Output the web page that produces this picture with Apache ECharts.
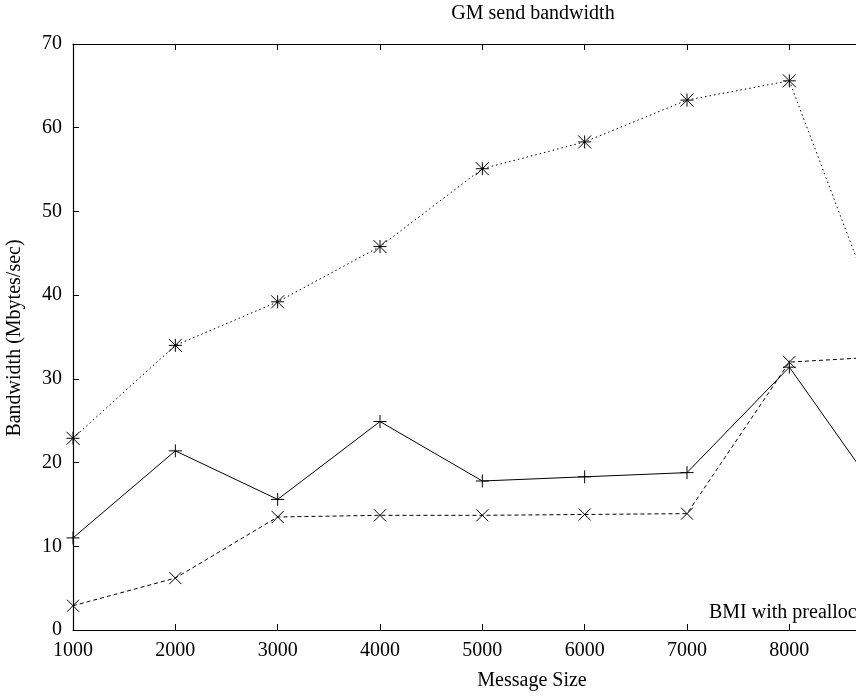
<!DOCTYPE html>
<html>
<head>
<meta charset="utf-8">
<script src="https://cdn.jsdelivr.net/npm/echarts@6/dist/echarts.min.js"></script>
<style>html,body{margin:0;padding:0;background:#fff}#c{width:856px;height:696px}</style>
</head>
<body>
<div id="c"></div>
<script>
const messageSizes = [1000, 2000, 3000, 4000, 5000, 6000, 7000, 8000, 9000];
const starValues = [22.9, 34.0, 39.2, 45.8, 55.1, 58.3, 63.3, 65.6, 33.3];
const plusValues = [11.0, 21.4, 15.6, 24.9, 17.8, 18.3, 18.8, 31.4, 14.1];
const crossValues = [2.9, 6.2, 13.5, 13.7, 13.7, 13.8, 13.9, 32.0, 32.7];
const titleText = 'GM send bandwidth';
const xName = 'Message Size';
const yName = 'Bandwidth (Mbytes/sec)';
const keyText = 'BMI with prealloc';

const FONT = 'Liberation Serif';
const FS = 20;
const pair = (xs, ys) => xs.map((x, i) => [x, ys[i]]);
const SYM_PLUS = 'path://M0,5L10,5M5,0L5,10';
const SYM_CROSS = 'path://M0,0L10,10M10,0L0,10';
const SYM_STAR = 'path://M0,5L10,5M5,0L5,10M0,0L10,10M10,0L0,10';

const chart = echarts.init(document.getElementById('c'), null, {renderer: 'canvas'});
const axisCommon = {
  type: 'value', min: 1000, max: 10000, interval: 1000,
  axisLine: {show: true, lineStyle: {color: '#000', width: 1.2}},
  axisTick: {show: true, inside: true, length: 6, lineStyle: {color: '#000'}},
  splitLine: {show: false}
};
const symStyle = {color: '#000', borderColor: '#000', borderWidth: 1};
const font = FS + 'px "' + FONT + '"';
chart.setOption({
  animation: false,
  backgroundColor: '#fff',
  grid: {left: 73, top: 44, width: 921, height: 586, containLabel: false, outerBoundsMode: 'none'},
  xAxis: [
    Object.assign({}, axisCommon, {
      position: 'bottom',
      axisLabel: {color: '#000', fontFamily: FONT, fontSize: FS, margin: 11, formatter: v => String(v)}
    }),
    Object.assign({}, axisCommon, {
      position: 'top',
      axisLabel: {show: false}
    })
  ],
  yAxis: {
    type: 'value', min: 0, max: 70, interval: 10,
    axisLine: {show: true, lineStyle: {color: '#000', width: 1.2}},
    axisTick: {show: true, inside: true, length: 6, lineStyle: {color: '#000'}},
    splitLine: {show: false},
    axisLabel: {color: '#000', fontFamily: FONT, fontSize: FS, margin: 11}
  },
  series: [
    {
      type: 'line', data: pair(messageSizes, plusValues), color: '#000',
      symbol: SYM_PLUS, symbolSize: 13, itemStyle: symStyle,
      lineStyle: {color: '#000', width: 1, type: 'solid'}
    },
    {
      type: 'line', data: pair(messageSizes, crossValues), color: '#000',
      symbol: SYM_CROSS, symbolSize: 12, itemStyle: symStyle,
      lineStyle: {color: '#000', width: 1, type: [4, 3]}
    },
    {
      type: 'line', data: pair(messageSizes, starValues), color: '#000',
      symbol: SYM_STAR, symbolSize: 13, itemStyle: symStyle,
      lineStyle: {color: '#000', width: 1, type: [1.5, 3]}
    }
  ],
  graphic: [
    {type: 'text', x: 533, y: 14, style: {text: titleText, font: font, fill: '#000', align: 'center', verticalAlign: 'middle'}},
    {type: 'text', x: 532, y: 681, style: {text: xName, font: font, fill: '#000', align: 'center', verticalAlign: 'middle'}},
    {type: 'text', x: 15, y: 338, rotation: Math.PI / 2, style: {text: yName, font: font, fill: '#000', align: 'center', verticalAlign: 'middle'}},
    {type: 'text', x: 709, y: 613, style: {text: keyText, font: font, fill: '#000', align: 'left', verticalAlign: 'middle'}}
  ]
});
</script>
</body>
</html>
